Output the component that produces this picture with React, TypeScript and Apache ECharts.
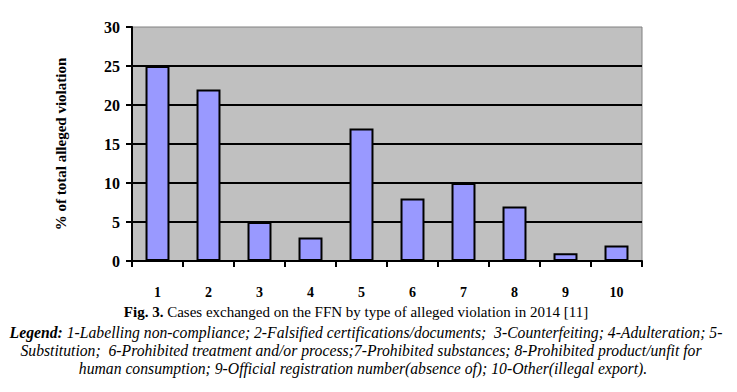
import React, { useEffect, useRef } from "react";
import * as echarts from "echarts";

const categories = ["1", "2", "3", "4", "5", "6", "7", "8", "9", "10"];
const values = [25, 22, 5, 3, 17, 8, 10, 7, 1, 2];
const yTitle = "% of total alleged violation";
const figLabel = "Fig. 3.";
const figText = " Cases exchanged on the FFN by type of alleged violation in 2014 [11]";
const legendLabel = "Legend:";
const legendLines = [
  " 1-Labelling non-compliance; 2-Falsified certifications/documents;  3-Counterfeiting; 4-Adulteration; 5-",
  "Substitution;  6-Prohibited treatment and/or process;7-Prohibited substances; 8-Prohibited product/unfit for",
  "human consumption; 9-Official registration number(absence of); 10-Other(illegal export).",
];

const FONT = "'Liberation Serif', 'Times New Roman', serif";
const LFS = 15.7;
const CFS = 15;

export default function App() {
  const ref = useRef<HTMLDivElement>(null);
  useEffect(() => {
    if (!ref.current) return;
    const chart = echarts.init(ref.current, null, { renderer: "svg" });
    chart.setOption({
      animation: false,
      backgroundColor: "#ffffff",
      grid: {
        left: 132,
        top: 27,
        right: 95,
        bottom: 131,
        show: true,
        backgroundColor: "#C0C0C0",
        borderColor: "#808080",
        borderWidth: 1,
      },
      xAxis: {
        type: "category",
        data: categories,
        axisLine: { lineStyle: { color: "#000", width: 2 } },
        axisTick: { show: true, length: 6, lineStyle: { color: "#000", width: 2 } },
        axisLabel: { color: "#000", fontFamily: FONT, fontWeight: "bold", fontSize: 14, margin: 24 },
      },
      yAxis: {
        type: "value",
        min: 0,
        max: 30,
        interval: 5,
        name: yTitle,
        nameLocation: "middle",
        nameGap: 64,
        nameTextStyle: { color: "#000", fontFamily: FONT, fontWeight: "bold", fontSize: 15 },
        axisLine: { show: true, lineStyle: { color: "#000", width: 2 } },
        axisTick: { show: true, length: 6, lineStyle: { color: "#000", width: 2 } },
        axisLabel: { color: "#000", fontFamily: FONT, fontWeight: "bold", fontSize: 16, margin: 12 },
        splitLine: { show: true, showMaxLine: false, lineStyle: { color: "#000", width: 2 } },
      },
      series: [
        {
          type: "bar",
          data: values,
          barWidth: "47%",
          itemStyle: { color: "#9999FF", borderColor: "#000", borderWidth: 2 },
        },
      ],
      graphic: [
        {
          type: "text",
          x: 356,
          y: 304,
          style: {
            text: `{b|${figLabel}}{n|${figText}}`,
            align: "center",
            rich: {
              b: { fontFamily: FONT, fontWeight: "bold", fontSize: CFS, fill: "#000" },
              n: { fontFamily: FONT, fontSize: CFS, fill: "#000" },
            },
          },
        },
        {
          type: "text",
          x: 366,
          y: 324,
          style: {
            text: `{b|${legendLabel}}{i|${legendLines[0]}}`,
            align: "center",
            rich: {
              b: { fontFamily: FONT, fontWeight: "bold", fontStyle: "italic", fontSize: LFS, fill: "#000" },
              i: { fontFamily: FONT, fontStyle: "italic", fontSize: LFS, fill: "#000" },
            },
          },
        },
        {
          type: "text",
          x: 361,
          y: 342,
          style: { text: legendLines[1], align: "center", fontFamily: FONT, fontStyle: "italic", fontSize: LFS, fill: "#000" },
        },
        {
          type: "text",
          x: 363,
          y: 360,
          style: { text: legendLines[2], align: "center", fontFamily: FONT, fontStyle: "italic", fontSize: LFS, fill: "#000" },
        },
      ],
    });
    return () => chart.dispose();
  }, []);
  return (
    <div
      ref={ref}
      style={{ position: "absolute", left: 0, top: 0, width: 737, height: 392 }}
    />
  );
}
